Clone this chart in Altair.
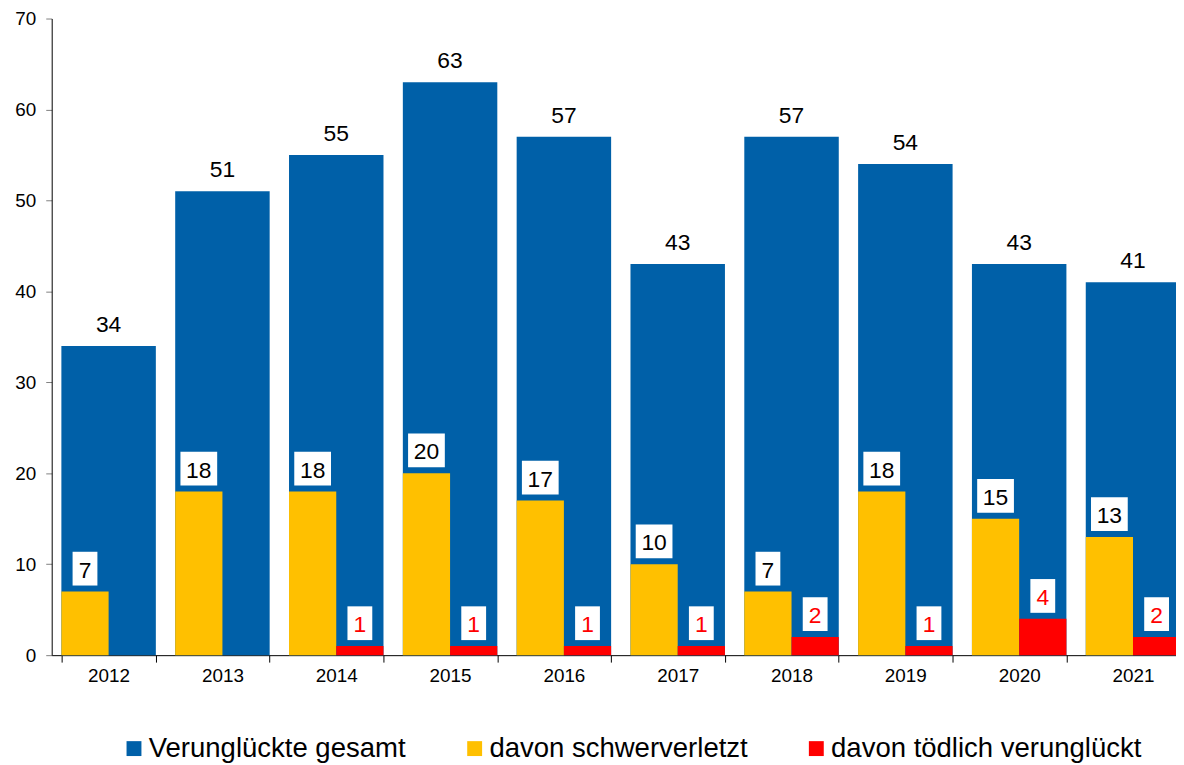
import altair as alt
import pandas as pd

years = ["2012", "2013", "2014", "2015", "2016", "2017", "2018", "2019", "2020", "2021"]
total = [34, 51, 55, 63, 57, 43, 57, 54, 43, 41]
serious = [7, 18, 18, 20, 17, 10, 7, 18, 15, 13]
killed = [0, 0, 1, 1, 1, 1, 2, 1, 4, 2]

S_TOTAL = "Verunglückte gesamt"
S_SER = "davon schwerverletzt"
S_KIL = "davon tödlich verunglückt"

BLUE = "#0060A8"
YELLOW = "#FFC000"
RED = "#FF0000"
FONT = "Liberation Sans"

df_total = pd.DataFrame({"year": years, "value": total, "series": S_TOTAL})
df_sub = pd.DataFrame({
    "year": years + years,
    "value": serious + killed,
    "series": [S_SER] * len(years) + [S_KIL] * len(years),
})
df_lab = df_sub[df_sub["value"] > 0]

x = alt.X(
    "year:N",
    sort=years,
    scale=alt.Scale(paddingInner=0.17, paddingOuter=0.085),
    axis=alt.Axis(title=None, labelAngle=0, tickBand="extent", tickSize=7,
                  labelPadding=5, labelFontSize=19, tickColor="black"),
)
y = alt.Y(
    "value:Q",
    scale=alt.Scale(domain=[0, 70], nice=False),
    axis=alt.Axis(title=None, values=list(range(0, 80, 10)), grid=False,
                  tickColor="#808080", tickSize=6, labelPadding=10, labelFontSize=19),
)
xoff = alt.XOffset("series:N", scale=alt.Scale(domain=[S_SER, S_KIL], paddingInner=0, paddingOuter=0))
color = alt.Color(
    "series:N",
    scale=alt.Scale(domain=[S_TOTAL, S_SER, S_KIL], range=[BLUE, YELLOW, RED]),
    legend=alt.Legend(orient="none", legendX=69, legendY=721, direction="horizontal",
                      title=None, symbolType="square", symbolSize=225, symbolStrokeWidth=0,
                      labelFontSize=27.7, labelFont=FONT, labelOffset=1, columnPadding=55,
                      labelLimit=0, padding=0, labelColor="black"),
)

blue_bars = alt.Chart(df_total).mark_bar().encode(x=x, y=y, color=color)
blue_text = alt.Chart(df_total).mark_text(
    dy=-14, baseline="alphabetic", fontSize=23, font=FONT, color="black"
).encode(x=x, y=y, text="value:Q")

sub_bars = alt.Chart(df_sub).mark_bar().encode(x=x, xOffset=xoff, y=y, color=color)

P1 = "M-0.735,-2.353H0.735V-0.353H-0.735Z"
P2 = "M-1.088,-2.353H1.088V-0.353H-1.088Z"
boxes = alt.Chart(df_lab).mark_point(
    filled=True, color="white", opacity=1, strokeWidth=0, size=1156
).encode(
    x=x, xOffset=xoff, y=y,
    shape=alt.condition("datum.value >= 10", alt.value(P2), alt.value(P1)),
)
sub_text = alt.Chart(df_lab).mark_text(
    dy=-14, baseline="alphabetic", fontSize=23, font=FONT
).encode(
    x=x, xOffset=xoff, y=y, text="value:Q",
    color=alt.condition(f"datum.series == '{S_KIL}'", alt.value(RED), alt.value("black")),
)

chart = alt.layer(blue_bars, blue_text, sub_bars, boxes, sub_text).properties(
    width=1146, height=641,
    autosize=alt.AutoSizeParams(type="none"),
    padding={"left": 44, "top": 8, "right": -14, "bottom": 108},
).configure_view(stroke=None).configure_axis(
    labelFont=FONT, labelColor="black", domainColor="black", domainWidth=1
)

chart.save("out.html", embed_options={"renderer": "svg", "actions": False})
